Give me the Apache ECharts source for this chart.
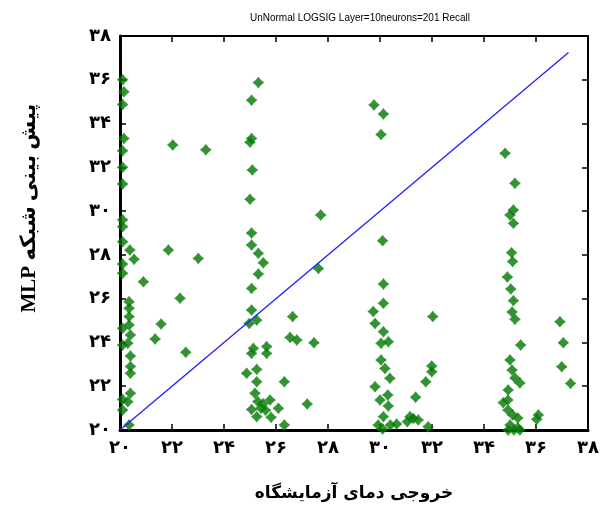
<!DOCTYPE html>
<html>
<head>
<meta charset="utf-8">
<script src="https://cdn.jsdelivr.net/npm/echarts@6/dist/echarts.min.js"></script>
<style>html,body{margin:0;padding:0;background:#fff}#c{width:610px;height:508px}</style>
</head>
<body>
<div id="c"></div>
<script>
// Measured (x) vs predicted (y) temperature
const measured = [
  20.1,20.15,20.1,20.15,20.1,20.1,20.1,20.1,20.1,20.1,20.38,20.54,20.1,20.1,20.9,20.35,20.35,20.35,20.35,20.1,20.4,20.3,20.1,20.4,20.4,20.4,20.4,20.3,20.1,20.1,20.35,
  22.03,23.3,21.86,23.01,22.31,21.58,21.35,22.53,
  25.32,25.06,25.06,25.0,25.09,25.0,25.06,25.06,25.32,25.51,25.32,25.06,25.06,24.97,25.26,
  25.13,25.06,25.64,25.64,26.54,26.8,25.26,24.87,25.26,26.32,25.19,25.77,25.06,25.42,26.09,25.81,26.32,25.26,25.5,25.6,25.3,
  27.72,27.63,26.64,27.46,27.2,
  29.77,30.13,30.04,30.1,30.13,30.13,29.74,29.81,30.13,30.04,30.32,30.04,30.19,30.38,29.81,30.0,30.3,30.32,30.13,29.93,30.1,30.4,30.64,31.15,31.47,31.28,31.05,31.85,31.37,31.76,31.99,31.99,32.03,
  34.81,35.19,35.13,35.0,35.13,35.06,35.1,34.9,35.03,35.13,35.08,35.19,35.41,35.0,35.08,35.19,35.38,34.93,34.92,34.74,34.92,35.1,35.3,35.0,35.3,34.93,35.38,35.15,36.03,36.09,36.92,37.05,36.99,37.33
];
const predicted = [
  36.0,35.45,34.87,33.32,32.76,32.0,31.24,29.6,29.29,28.6,28.22,27.8,27.58,27.16,26.77,25.86,25.56,25.18,24.8,24.65,24.34,23.96,23.88,23.38,22.9,22.59,21.68,21.29,21.4,20.91,20.23,
  33.02,32.8,28.22,27.84,26.02,24.84,24.16,23.55,
  35.87,35.07,33.32,33.15,31.88,30.54,29.0,28.45,28.07,27.64,27.13,26.47,25.48,24.87,25.02,
  23.73,23.5,23.81,23.5,24.23,24.11,22.77,22.59,22.2,22.2,21.68,21.37,20.94,20.99,20.99,20.58,20.23,20.61,21.2,20.9,21.3,
  29.82,27.38,25.18,23.99,21.19,
  34.85,34.44,33.5,28.65,26.67,25.79,25.41,24.87,24.49,23.96,24.03,23.2,22.81,22.36,21.98,21.37,21.6,21.1,20.61,20.23,20.05,20.23,20.27,20.61,20.46,20.53,20.38,20.15,21.5,22.2,22.92,22.66,25.18,
  32.64,31.27,30.05,29.82,29.44,28.1,27.7,26.99,26.44,25.91,25.39,25.06,23.88,23.2,22.74,22.38,22.15,21.83,21.37,21.25,20.91,20.69,20.55,20.23,20.1,20.0,20.0,20.0,20.49,20.69,24.95,23.99,22.89,22.13
];
const fitLineX = [20, 37.25];
const fitLineY = [20, 37.25];
const axisTicks = [20,22,24,26,28,30,32,34,36,38];

const titleText = 'UnNormal LOGSIG Layer=10neurons=201 Recall';
const xTitle = 'خروجی دمای آزمایشگاه';
const yTitle = 'پیش بینی شبکه MLP';

const fa = n => String(n).replace(/[0-9]/g, d => '۰۱۲۳۴۵۶۷۸۹'[d]);
const points = measured.map((x, i) => [x, predicted[i]]);
const linePts = fitLineX.map((x, i) => [x, fitLineY[i]]);

const axisBase = (pos, show) => ({
  type: 'value', min: axisTicks[0], max: axisTicks[axisTicks.length-1], interval: 2, position: pos,
  splitLine: {show: false},
  axisLine: {show: true, onZero: false, lineStyle: {color: '#000', width: show ? 3 : 2}},
  axisTick: {show: true, inside: true, length: 6, lineStyle: {color: '#000', width: 1.5}},
  axisLabel: {show: show, formatter: v => fa(v), color: '#000', fontSize: 18, fontWeight: 'bold',
              fontFamily: 'DejaVu Sans', margin: show ? 9 : 0}
});

const chart = echarts.init(document.getElementById('c'));
chart.setOption({
  animation: false,
  backgroundColor: '#fff',
  title: {text: titleText, left: 355, top: 8, textAlign: 'center',
          textStyle: {fontSize: 10, fontWeight: 'normal', color: '#000', fontFamily: 'Liberation Sans Narrow, Liberation Sans'}},
  grid: {left: 120, right: 22, top: 36, bottom: 78},
  graphic: [{
    type: 'text', x: 30, y: 208, rotation: Math.PI / 2,
    style: {text: '\u202B' + yTitle + '\u202C', fill: '#000', fontSize: 21, fontWeight: 'bold',
            fontFamily: 'Liberation Serif, DejaVu Sans', textAlign: 'center', textVerticalAlign: 'middle'}
  }],
  xAxis: [
    Object.assign(axisBase('bottom', true), {
      name: xTitle, nameLocation: 'middle', nameGap: 55,
      nameTextStyle: {fontSize: 17, fontWeight: 'bold', color: '#000', fontFamily: 'DejaVu Sans'}
    }),
    axisBase('top', false)
  ],
  yAxis: [axisBase('left', true), axisBase('right', false)],
  series: [
    {
      type: 'scatter', data: points, xAxisIndex: 0, yAxisIndex: 0,
      symbol: 'path://M0,-10 L4.5,-4.5 L10,0 L4.5,4.5 L0,10 L-4.5,4.5 L-10,0 L-4.5,-4.5Z',
      symbolSize: 11,
      itemStyle: {color: '#007700', borderColor: '#1f8f1f', borderWidth: 0.6}
    },
    {
      type: 'line', data: linePts, xAxisIndex: 0, yAxisIndex: 0, showSymbol: false,
      lineStyle: {color: '#1f1fff', width: 1.3}, z: 3
    }
  ]
});
</script>
</body>
</html>
